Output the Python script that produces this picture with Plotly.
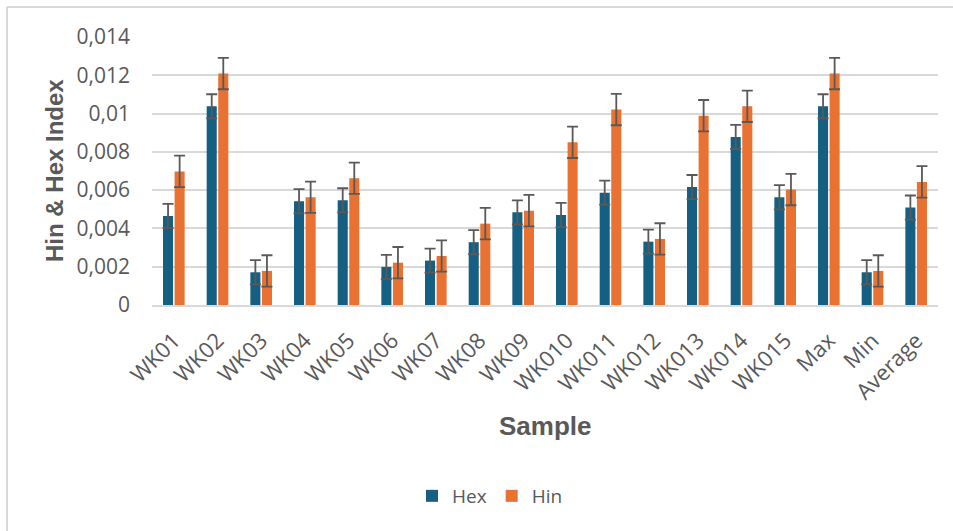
import plotly.graph_objects as go

# ---------------- data ----------------
samples = ["WK01", "WK02", "WK03", "WK04", "WK05", "WK06", "WK07", "WK08", "WK09",
           "WK010", "WK011", "WK012", "WK013", "WK014", "WK015", "Max", "Min", "Average"]
hex_values = [0.00465, 0.01038, 0.00171, 0.00542, 0.00547, 0.00199, 0.00232, 0.00328, 0.00484,
              0.00470, 0.00587, 0.00331, 0.00616, 0.00878, 0.00563, 0.01038, 0.00171, 0.00509]
hin_values = [0.00698, 0.01209, 0.00178, 0.00563, 0.00662, 0.00221, 0.00256, 0.00425, 0.00493,
              0.00850, 0.01021, 0.00345, 0.00989, 0.01038, 0.00603, 0.01209, 0.00178, 0.00643]
hex_errors = [0.00063] * 18
hin_errors = [0.00082] * 18
y_tick_values = [0, 0.002, 0.004, 0.006, 0.008, 0.01, 0.012, 0.014]
y_tick_labels = ["0", "0,002", "0,004", "0,006", "0,008", "0,01", "0,012", "0,014"]

# ---------------- layout constants ----------------
W, H = 953, 531
ML, MR, MT, MB = 152, 15, 37, 226
PW, PH = W - ML - MR, H - MT - MB
GREY_TXT = "#595959"
GRID = "#d9d9d9"
HEX_C = "#156082"
HIN_C = "#E97132"


def pxx(px):
    return (px - ML) / PW


def pxy(py):
    return (H - MB - py) / PH


fig = go.Figure()
fig.add_trace(go.Bar(
    name="Hex", x=samples, y=hex_values, marker_color=HEX_C,
    marker_line_width=0,
    error_y=dict(type="data", array=hex_errors, symmetric=True,
                 color=GREY_TXT, thickness=1.8, width=5.5),
))
fig.add_trace(go.Bar(
    name="Hin", x=samples, y=hin_values, marker_color=HIN_C,
    marker_line_width=0,
    error_y=dict(type="data", array=hin_errors, symmetric=True,
                 color=GREY_TXT, thickness=1.8, width=5.5),
))

fig.update_layout(
    width=W, height=H,
    margin=dict(l=ML, r=MR, t=MT, b=MB, pad=0),
    paper_bgcolor="white", plot_bgcolor="white",
    barmode="group", bargap=0.47, bargroupgap=0.13,
    font=dict(family="Open Sans, Arial, sans-serif", color=GREY_TXT, size=18),
    showlegend=True,
    legend=dict(orientation="h", x=490 / W, xanchor="center",
                xref="container", yref="container",
                y=1 - 496 / H, yanchor="middle",
                font=dict(size=19, color=GREY_TXT),
                itemwidth=30, traceorder="normal",
                bgcolor="rgba(0,0,0,0)"),
    xaxis=dict(
        showgrid=False, showline=True, linecolor=GRID, linewidth=2,
        ticks="", tickangle=-45, tickfont=dict(size=22, color=GREY_TXT),
        ticklabelstandoff=12,
        fixedrange=True,
    ),
    yaxis=dict(
        range=[0, 0.014], tickvals=y_tick_values, ticktext=y_tick_labels,
        showgrid=True, gridcolor=GRID, gridwidth=1.6,
        showline=False, zeroline=False, ticks="",
        tickfont=dict(size=21, color=GREY_TXT), ticklabelstandoff=21,
        fixedrange=True,
    ),
    annotations=[
        dict(text="<b>Hin & Hex Index</b>", xref="paper", yref="paper",
             x=pxx(54), y=pxy(171), xanchor="center", yanchor="middle",
             textangle=-90, showarrow=False,
             font=dict(family="Liberation Sans, Arial, sans-serif", size=24, color=GREY_TXT)),
        dict(text="<b>Sample</b>", xref="paper", yref="paper",
             x=pxx(545), y=pxy(426), xanchor="center", yanchor="middle",
             showarrow=False,
             font=dict(family="Liberation Sans, Arial, sans-serif", size=26, color=GREY_TXT)),
    ],
    shapes=[
        dict(type="line", xref="paper", yref="paper",
             x0=pxx(7), x1=pxx(7), y0=pxy(7), y1=pxy(H + 10),
             line=dict(color=GRID, width=2)),
        dict(type="line", xref="paper", yref="paper",
             x0=pxx(7), x1=pxx(W + 10), y0=pxy(7), y1=pxy(7),
             line=dict(color=GRID, width=2)),
    ],
)

fig.write_html(
    "out.html",
    config={"displayModeBar": False},
    post_script="document.body.style.margin='0';document.body.style.overflow='hidden';",
)
